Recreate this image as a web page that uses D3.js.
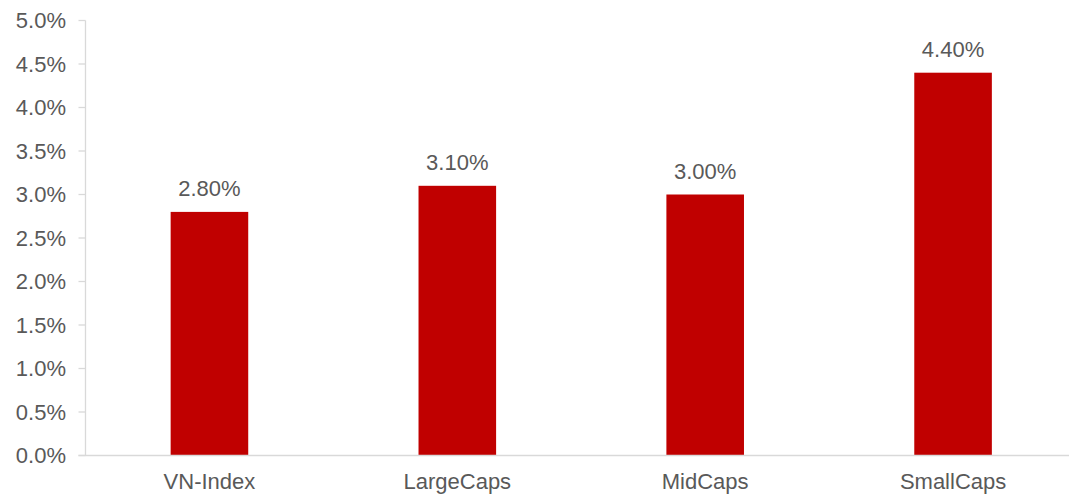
<!DOCTYPE html>
<html><head><meta charset="utf-8">
<script src="https://cdn.jsdelivr.net/npm/d3@7"></script>
<style>body{margin:0;background:#fff}svg{display:block}text{font-family:Arial,"Liberation Sans",sans-serif;fill:#595959}</style>
</head><body>
<svg id="c" width="1069" height="495"></svg>
<script>
const categories = ["VN-Index","LargeCaps","MidCaps","SmallCaps"];
const values = [2.80, 3.10, 3.00, 4.40];
const yTicks = [0,0.5,1.0,1.5,2.0,2.5,3.0,3.5,4.0,4.5,5.0];

(function(){
const svg = d3.select("#c");
const mL = 85.5, mR = 1077, mT = 20.5, mB = 455.5;
const x = d3.scaleBand().domain(categories).range([mL, mR]).paddingInner(0.687).paddingOuter(0.3435);
const y = d3.scaleLinear().domain([0,5]).range([mB, mT]);
const axisColor = "#d9d9d9";

// y axis
svg.append("line").attr("x1",mL).attr("x2",mL).attr("y1",mT).attr("y2",mB).attr("stroke",axisColor).attr("stroke-width",1.3);
svg.selectAll(".yt").data(yTicks).enter().append("line")
  .attr("x1",mL-7).attr("x2",mL).attr("y1",d=>y(d)).attr("y2",d=>y(d)).attr("stroke",axisColor).attr("stroke-width",1.3);
svg.selectAll(".yl").data(yTicks).enter().append("text")
  .attr("x",66).attr("y",d=>y(d)+7.5).attr("text-anchor","end").attr("font-size",22)
  .text(d=>d.toFixed(1)+"%");

// bars
svg.selectAll(".bar").data(values).enter().append("rect")
  .attr("x",(d,i)=>x(categories[i])).attr("width",x.bandwidth())
  .attr("y",d=>y(d)).attr("height",d=>mB-y(d)).attr("fill","#c00000");

// x axis
svg.append("line").attr("x1",mL-7).attr("x2",mR).attr("y1",mB).attr("y2",mB).attr("stroke",axisColor).attr("stroke-width",1.3);
svg.selectAll(".xl").data(categories).enter().append("text")
  .attr("x",d=>x(d)+x.bandwidth()/2).attr("y",489).attr("text-anchor","middle").attr("font-size",22).text(d=>d);

// value labels
svg.selectAll(".vl").data(values).enter().append("text")
  .attr("x",(d,i)=>x(categories[i])+x.bandwidth()/2).attr("y",d=>y(d)-16).attr("text-anchor","middle").attr("font-size",22)
  .text(d=>d.toFixed(2)+"%");
})();
</script>
</body></html>
